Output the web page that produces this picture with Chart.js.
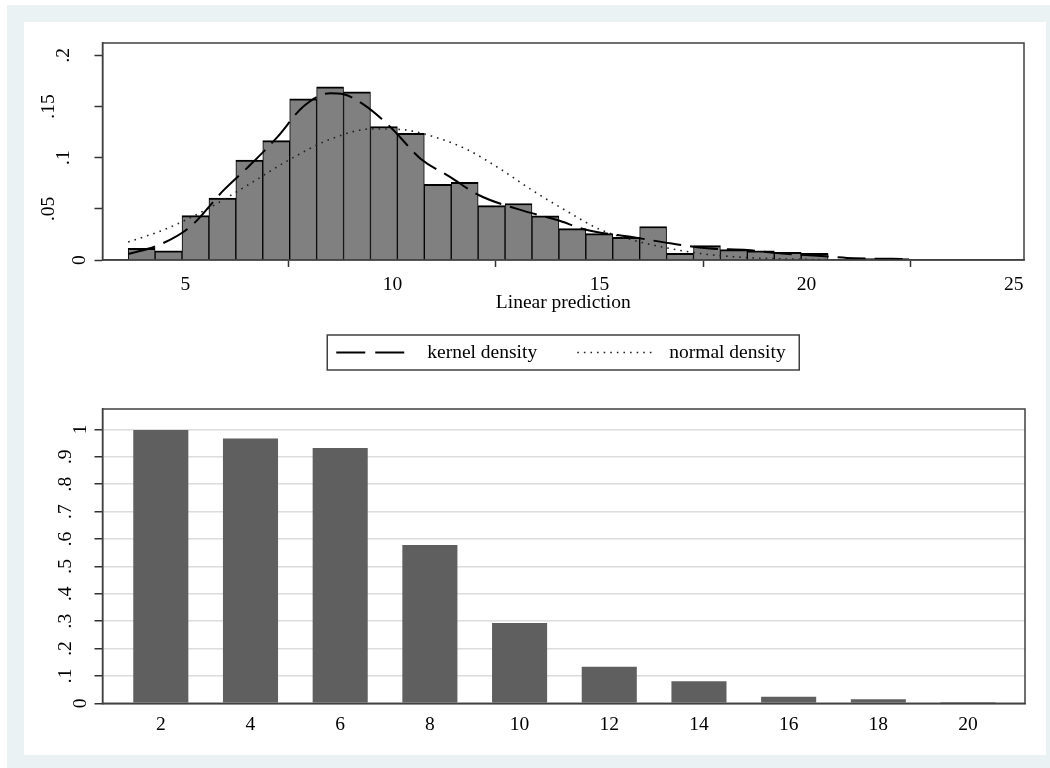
<!DOCTYPE html>
<html>
<head>
<meta charset="utf-8">
<script src="https://cdn.jsdelivr.net/npm/chart.js@4.4.1/dist/chart.umd.min.js"></script>
<style>
  body { margin: 0; background: #fff; }
  #frame { position: absolute; left: 7px; top: 5px; width: 1043px; height: 763px; background: #eaf2f3; }
  #panel { position: absolute; left: 17px; top: 17px; width: 1022px; height: 733px; background: #fff; }
  .box { position: absolute; left: 0; width: 1022px; }
  #topBox { top: 0; height: 363px; }
  #bottomBox { top: 363px; height: 370px; }
</style>
</head>
<body>
<div id="frame">
  <div id="panel">
    <div class="box" id="topBox"><canvas id="histChart"></canvas></div>
    <div class="box" id="bottomBox"><canvas id="shareChart"></canvas></div>
  </div>
</div>
<script>
// histogram of the linear prediction
const binMids = [3.945, 4.595, 5.245, 5.895, 6.545, 7.195, 7.845, 8.495, 9.145, 9.795,
  10.445, 11.095, 11.745, 12.395, 13.045, 13.695, 14.345, 14.995, 15.645, 16.295,
  16.945, 17.595, 18.245, 18.895, 19.545, 20.195, 20.845, 21.495, 22.145];
const histDensity = [0.0115, 0.009, 0.0434, 0.0605, 0.0977, 0.1167, 0.1575, 0.1693, 0.1644, 0.1304,
  0.1238, 0.074, 0.0758, 0.0532, 0.0552, 0.0431, 0.0307, 0.0258, 0.0222, 0.0327,
  0.0065, 0.014, 0.0102, 0.009, 0.0075, 0.0065, 0, 0.0015, 0.0015];

// density curves
const kernelX = [3.62, 4.32, 5.12, 5.92, 6.57, 7.22, 7.85, 8.5, 8.82, 9.3, 9.95, 10.68, 11.4,
  12.08, 13.09, 13.98, 14.7, 15.82, 16.71, 17.6, 18.57, 19.2, 20.58, 21.14, 22.45];
const kernelY = [0.0059, 0.014, 0.0325, 0.068, 0.093, 0.12, 0.15, 0.163, 0.162, 0.152, 0.13, 0.099, 0.081,
  0.0635, 0.049, 0.039, 0.0293, 0.0222, 0.0163, 0.0114, 0.0098, 0.0071, 0.0032, 0.0017, 0.001];
const normalX = [3.62, 4.5, 5.5, 6.5, 7.5, 8.5, 9.5, 10.2, 11.0, 11.8, 12.6, 13.4, 14.2, 15.0,
  15.8, 16.6, 17.4, 18.5, 19.5, 20.5, 21.5, 22.45];
const normalY = [0.0176, 0.0298, 0.0492, 0.073, 0.0977, 0.118, 0.128, 0.1275, 0.1204, 0.108, 0.089, 0.0675,
  0.048, 0.03, 0.0195, 0.012, 0.0065, 0.0025, 0.001, 0.0003, 0.0001, 0];
const seriesNames = ['kernel density', 'normal density'];

const predTicks = [5, 10, 15, 20, 25];
const densityTicks = [0, 0.05, 0.1, 0.15, 0.2];

// bottom bar chart
const nVals = [2, 4, 6, 8, 10, 12, 14, 16, 18, 20];
const shareVals = [0.9975, 0.967, 0.932, 0.578, 0.293, 0.1336, 0.0803, 0.024, 0.0146, 0.005];
const shareTicks = [0, 0.1, 0.2, 0.3, 0.4, 0.5, 0.6, 0.7, 0.8, 0.9, 1];

const FONT = "'Liberation Serif', 'Times New Roman', serif";
const FONT_SIZE = 19.5;
Chart.defaults.font.family = FONT;
Chart.defaults.font.size = FONT_SIZE;
Chart.defaults.color = '#000';
Chart.defaults.animation = false;

const axisColor = '#404040';
const trimZero = v => String(v).replace(/^0\./, '.');

// Stata sets longer vertical labels further from the axis.
// A blank second line pushes the label left by half a line height,
// so the line height per tick is used as that offset.
const labelShift = v => 15.5 * (trimZero(v).length - 1);
const rotatedTicks = padding => ({
  minRotation: 90,
  maxRotation: 90,
  crossAlign: 'center',
  padding,
  callback: v => [trimZero(v), ''],
  font: c => ({
    size: FONT_SIZE,
    lineHeight: c.tick ? (2 * labelShift(c.tick.value)) + 'px' : 1.2
  })
});

// fixed axis width, and no extra room asked for by the tall two-line labels
const fixedYAxis = s => {
  s.width = 78.5;
  s.paddingTop = 0;
  s.paddingBottom = 0;
};

// box around the plot region
const plotFrame = {
  id: 'plotFrame',
  afterDatasetsDraw(chart) {
    const { ctx, chartArea: a } = chart;
    ctx.save();
    ctx.strokeStyle = axisColor;
    ctx.lineWidth = 1.5;
    ctx.strokeRect(a.left, a.top, a.right - a.left, a.bottom - a.top);
    ctx.restore();
  }
};

// boxed legend under the x title
const legendBox = {
  id: 'legendBox',
  afterDraw(chart) {
    const { ctx, chartArea } = chart;
    const w = 472, h = 35;
    const left = (chartArea.left + chartArea.right) / 2 - w / 2;
    const top = chartArea.bottom + 75;
    const mid = top + h / 2;
    const lines = chart.data.datasets.filter(d => d.type === 'line');
    const slots = [{ from: 9, to: 79, text: 100 }, { from: 250, to: 325, text: 342 }];

    ctx.save();
    ctx.strokeStyle = axisColor;
    ctx.lineWidth = 1.5;
    ctx.strokeRect(left, top, w, h);

    lines.forEach((ds, i) => {
      const s = slots[i];
      ctx.strokeStyle = ds.borderColor;
      ctx.lineWidth = ds.borderWidth;
      ctx.setLineDash(ds.legendDash);
      ctx.beginPath();
      ctx.moveTo(left + s.from, mid);
      ctx.lineTo(left + s.to, mid);
      ctx.stroke();
      ctx.setLineDash([]);
      ctx.fillStyle = '#000';
      ctx.font = FONT_SIZE + 'px ' + FONT;
      ctx.textBaseline = 'middle';
      ctx.fillText(ds.label, left + s.text, mid);
    });
    ctx.restore();
  }
};

new Chart(document.getElementById('histChart'), {
  type: 'bar',
  data: {
    datasets: [
      {
        type: 'line',
        label: seriesNames[0],
        data: kernelX.map((x, i) => ({ x, y: kernelY[i] })),
        borderColor: '#000',
        borderWidth: 2,
        borderDash: [28, 9],
        legendDash: [29, 10],
        pointRadius: 0,
        cubicInterpolationMode: 'monotone',
        order: 0
      },
      {
        type: 'line',
        label: seriesNames[1],
        data: normalX.map((x, i) => ({ x, y: normalY[i] })),
        borderColor: '#222',
        borderWidth: 1.6,
        borderDash: [1.6, 5],
        legendDash: [1.6, 5],
        pointRadius: 0,
        cubicInterpolationMode: 'monotone',
        order: 0
      },
      {
        label: 'histogram',
        data: binMids.map((x, i) => ({ x, y: histDensity[i] })),
        backgroundColor: '#808080',
        borderColor: '#000',
        borderWidth: { top: 2, left: 1, right: 1, bottom: 0 },
        borderSkipped: false,
        barPercentage: 1,
        categoryPercentage: 1,
        order: 1
      }
    ]
  },
  options: {
    responsive: true,
    maintainAspectRatio: false,
    layout: { padding: { top: 21, right: 22, bottom: 70, left: 0 } },
    plugins: { legend: { display: false }, tooltip: { enabled: false } },
    scales: {
      x: {
        type: 'linear',
        min: 3.0,
        max: 25.25,
        offset: false,
        afterBuildTicks: s => { s.ticks = predTicks.map(v => ({ value: v })); },
        afterFit: s => { s.height = 55; },
        grid: { drawOnChartArea: false, tickLength: 7, tickColor: '#333', tickWidth: 1.5 },
        border: { color: axisColor, width: 1.5 },
        ticks: { padding: 6.5, maxRotation: 0 },
        title: { display: true, text: 'Linear prediction', padding: 0 }
      },
      y: {
        min: 0,
        max: 0.212,
        afterBuildTicks: s => { s.ticks = densityTicks.map(v => ({ value: v })); },
        afterFit: fixedYAxis,
        grid: { drawOnChartArea: false, tickLength: 8, tickColor: '#333', tickWidth: 1.5 },
        border: { color: axisColor, width: 1.5 },
        ticks: rotatedTicks(2.5)
      }
    }
  },
  plugins: [plotFrame, legendBox]
});

new Chart(document.getElementById('shareChart'), {
  type: 'bar',
  data: {
    datasets: [{
      label: 'share',
      data: nVals.map((x, i) => ({ x, y: shareVals[i] })),
      backgroundColor: '#5f5f5f',
      borderWidth: 0,
      barPercentage: 0.614,
      categoryPercentage: 1
    }]
  },
  options: {
    responsive: true,
    maintainAspectRatio: false,
    layout: { padding: { top: 24, right: 21, bottom: 0, left: 0 } },
    plugins: { legend: { display: false }, tooltip: { enabled: false } },
    scales: {
      x: {
        type: 'linear',
        min: 0.7,
        max: 21.27,
        offset: false,
        afterBuildTicks: s => { s.ticks = nVals.map(v => ({ value: v })); },
        afterFit: s => { s.height = 51.7; },
        grid: { display: false, drawTicks: false },
        border: { color: axisColor, width: 1.5 },
        ticks: { padding: 9.5, maxRotation: 0 }
      },
      y: {
        min: 0,
        max: 1.0745,
        afterBuildTicks: s => { s.ticks = shareTicks.map(v => ({ value: v })); },
        afterFit: fixedYAxis,
        grid: { color: '#dcdcdc', lineWidth: 1.5, tickLength: 8, tickColor: '#333', tickWidth: 1.5 },
        border: { color: axisColor, width: 1.5 },
        ticks: rotatedTicks(6)
      }
    }
  },
  plugins: [plotFrame]
});
</script>
</body>
</html>
